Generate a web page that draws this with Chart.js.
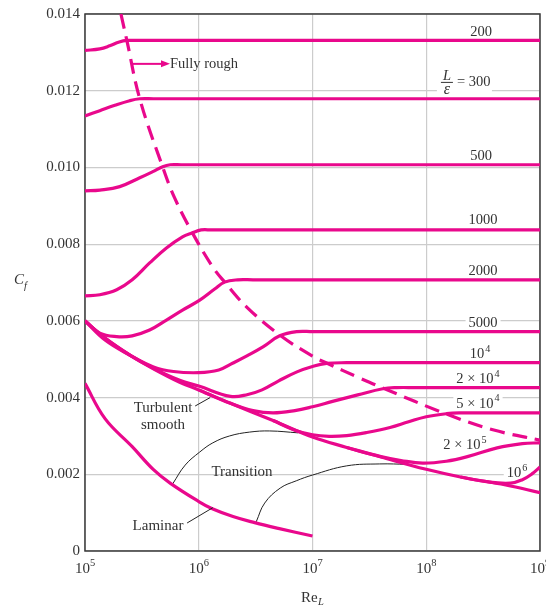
<!DOCTYPE html>
<html>
<head>
<meta charset="utf-8">
<script src="https://cdn.jsdelivr.net/npm/chart.js@4.4.0/dist/chart.umd.min.js"></script>
<style>
  body { margin: 0; background: #fff; }
  #wrap { width: 546px; height: 606px; }
</style>
</head>
<body>
<div id="wrap"><canvas id="cfChart"></canvas></div>
<script>
// axis ticks
const reTicks = [1e5, 1e6, 1e7, 1e8, 1e9];
const cfTicks = [0, 0.002, 0.004, 0.006, 0.008, 0.010, 0.012, 0.014];

// turbulent smooth plate
const smoothRe = [1e5, 1.5e5, 2.5e5, 4e5, 6.8e5, 1e6, 1.9e6, 4.5e6, 1e7, 2e7, 4e7, 1e8, 2e8, 5e8, 1e9];
const smoothCf = [0.0060, 0.00555, 0.0051, 0.00475, 0.0044, 0.0042, 0.00385, 0.0034, 0.00297, 0.0027, 0.00245, 0.00213, 0.00193, 0.00172, 0.00152];

// laminar
const laminarRe = [1e5, 1.5e5, 2.6e5, 4e5, 5.6e5, 1e6, 1.3e6, 2e6, 3.1e6, 5e6, 1e7];
const laminarCf = [0.00437, 0.00345, 0.00272, 0.00212, 0.00177, 0.00129, 0.00111, 0.00090, 0.00074, 0.00059, 0.00039];

// rough plates, L/eps
const r200Re = [1e5, 1.35e5, 1.65e5, 2.0e5, 2.33e5, 3e5, 1e9];
const r200Cf = [0.01305, 0.01309, 0.01317, 0.01327, 0.01331, 0.01331, 0.01331];
const r300Re = [1e5, 1.35e5, 1.83e5, 2.47e5, 3.03e5, 4e5, 1e9];
const r300Cf = [0.01134, 0.01148, 0.01162, 0.01174, 0.01179, 0.01179, 0.01179];
const r500Re = [1e5, 1.35e5, 2.02e5, 3.03e5, 3.94e5, 4.82e5, 5.6e5, 7e5, 1e9];
const r500Cf = [0.00939, 0.00941, 0.0095, 0.00973, 0.00989, 0.01002, 0.01007, 0.01007, 0.01007];
const r1000Re = [1e5, 1.35e5, 1.9e5, 2.6e5, 3.7e5, 5.2e5, 7.2e5, 8.7e5, 1.05e6, 1.3e6, 1e9];
const r1000Cf = [0.00665, 0.00668, 0.00681, 0.00707, 0.00751, 0.0079, 0.00819, 0.00829, 0.00837, 0.00837, 0.00837];
const r2000Re = [1e5, 1.35e5, 1.9e5, 2.6e5, 3.7e5, 5.2e5, 7.2e5, 1.02e6, 1.38e6, 1.69e6, 2.2e6, 3e6, 1e9];
const r2000Cf = [0.0060, 0.00568, 0.00559, 0.00561, 0.00576, 0.00602, 0.00628, 0.00654, 0.00683, 0.00701, 0.00707, 0.00707, 0.00707];
const r5000Re = [1e5, 1.5e5, 2.5e5, 4e5, 6e5, 1e6, 1.5e6, 2e6, 2.7e6, 3.7e6, 5.15e6, 7.3e6, 1e7, 1e9];
const r5000Cf = [0.0060, 0.0055, 0.0051, 0.0048, 0.00468, 0.00465, 0.00472, 0.0049, 0.0051, 0.00533, 0.00561, 0.00572, 0.00572, 0.00572];
const r1e4Re = [1e5, 1.5e5, 2.5e5, 4e5, 6.8e5, 1e6, 1.9e6, 2.7e6, 3.6e6, 5e6, 7.3e6, 1e7, 1.33e7, 2e7, 3e7, 1e9];
const r1e4Cf = [0.0060, 0.00555, 0.0051, 0.00476, 0.00445, 0.0043, 0.00403, 0.00408, 0.0042, 0.00443, 0.00467, 0.00481, 0.00489, 0.00491, 0.00491, 0.00491];
const r2e4Re = [1e6, 1.9e6, 3e6, 4.5e6, 7e6, 1e7, 1.5e7, 2.5e7, 4.15e7, 5.5e7, 8e7, 1e9];
const r2e4Cf = [0.0042, 0.00385, 0.00366, 0.0036, 0.00366, 0.00376, 0.0039, 0.00407, 0.00423, 0.00426, 0.00426, 0.00426];
const r5e4Re = [4.5e6, 7e6, 1e7, 1.4e7, 2e7, 3e7, 4.8e7, 7e7, 1e8, 1.51e8, 2e8, 3e8, 1e9];
const r5e4Cf = [0.0034, 0.00315, 0.00303, 0.00299, 0.00301, 0.00309, 0.00322, 0.00337, 0.0035, 0.00358, 0.0036, 0.0036, 0.0036];
const r2e5Re = [2e7, 4e7, 6e7, 9.3e7, 1.5e8, 2.3e8, 4.2e8, 7e8, 1e9];
const r2e5Cf = [0.0027, 0.00246, 0.00236, 0.00229, 0.00234, 0.00246, 0.00269, 0.0028, 0.00282];
const r1e6Re = [2e8, 3.5e8, 5.5e8, 7e8, 8.5e8, 1e9];
const r1e6Cf = [0.00193, 0.0018, 0.00177, 0.00186, 0.00201, 0.00219];

// fully rough boundary (dashed)
const roughRe = [2.07e5, 2.33e5, 3.03e5, 4.82e5, 6.15e5, 8.7e5, 1.33e6, 1.69e6, 2.64e6, 5.15e6, 1e7, 1.33e7, 2.6e7, 4.15e7, 1.51e8, 3.85e8, 1e9];
const roughCf = [0.0140, 0.01332, 0.01179, 0.01001, 0.0092, 0.00832, 0.0074, 0.00701, 0.00636, 0.00563, 0.00508, 0.0049, 0.00451, 0.00425, 0.00357, 0.00316, 0.00289];

// transition (thin black)
const trans1Re = [5.9e5, 7.6e5, 1.02e6, 1.33e6, 1.87e6, 2.8e6, 4.2e6, 7.5e6];
const trans1Cf = [0.00175, 0.00224, 0.00258, 0.00282, 0.0030, 0.0031, 0.00313, 0.00308];
const trans2Re = [3.2e6, 3.8e6, 5.2e6, 7.2e6, 1e7, 2e7, 3.9e7, 6.8e7];
const trans2Cf = [0.00076, 0.00125, 0.00164, 0.00183, 0.00198, 0.00222, 0.00227, 0.00226];

const pink = "#e9088c";
const ink = "#333";
const serif = "'Liberation Serif', 'Times New Roman', serif";

function line(re, cf, extra) {
  return Object.assign({
    data: re.map((r, i) => ({ x: r, y: cf[i] })),
    borderColor: pink,
    borderWidth: 3.2,
    pointRadius: 0,
    fill: false,
    tension: 0.4
  }, extra);
}

const thin = { borderColor: "#222", borderWidth: 1 };

// labels of the curves, placed in data units
const curveLabels = [
  { re: 3.03e8, cf: 0.01356, text: "200" },
  { re: 3.03e8, cf: 0.01032, text: "500" },
  { re: 3.16e8, cf: 0.00866, text: "1000" },
  { re: 3.16e8, cf: 0.00733, text: "2000" },
  { re: 3.16e8, cf: 0.00597, text: "5000", bg: true },
  { re: 2.97e8, cf: 0.00516, text: "10", sup: "4" },
  { re: 2.85e8, cf: 0.00451, text: "2 × 10", sup: "4" },
  { re: 2.85e8, cf: 0.00386, text: "5 × 10", sup: "4", bg: true },
  { re: 2.19e8, cf: 0.00279, text: "2 × 10", sup: "5" },
  { re: 6.28e8, cf: 0.00206, text: "10", sup: "6", bg: true }
];

function drawSup(ctx, text, sup, cx, cy, size, bg) {
  ctx.font = size + "px " + serif;
  const wb = ctx.measureText(text).width;
  ctx.font = (size * 0.7) + "px " + serif;
  const ws = sup ? ctx.measureText(sup).width + 1 : 0;
  const x0 = cx - (wb + ws) / 2;
  if (bg) {
    ctx.fillStyle = "#fff";
    ctx.fillRect(x0 - 3, cy - 8, wb + ws + 6, 15);
  }
  ctx.fillStyle = ink;
  ctx.textAlign = "left";
  ctx.textBaseline = "alphabetic";
  ctx.font = size + "px " + serif;
  ctx.fillText(text, x0, cy + size * 0.34);
  if (sup) {
    ctx.font = (size * 0.7) + "px " + serif;
    ctx.fillText(sup, x0 + wb + 1, cy - size * 0.1);
  }
}

const annotate = {
  id: "annotate",
  beforeDatasetsDraw(chart) {
    const { ctx, chartArea: a, scales: { x, y } } = chart;
    const at = (re, cf) => [x.getPixelForValue(re), y.getPixelForValue(cf)];
    ctx.save();

    ctx.strokeStyle = "#3a3a3a";
    ctx.lineWidth = 1.5;
    ctx.strokeRect(a.left, a.top, a.right - a.left, a.bottom - a.top);

    curveLabels.forEach(l => {
      const [px, py] = at(l.re, l.cf);
      drawSup(ctx, l.text, l.sup, px, py, 14.5, l.bg);
    });

    // L / eps = 300
    const [fx, fy] = at(1.52e8, 0.01223);
    ctx.fillStyle = "#fff";
    ctx.fillRect(fx - 10, fy + 4, 55, 11);
    ctx.fillStyle = ink;
    ctx.textAlign = "center";
    ctx.textBaseline = "alphabetic";
    ctx.font = "italic 14.5px " + serif;
    ctx.fillText("L", fx, fy - 2);
    ctx.font = "italic 16px " + serif;
    ctx.fillText("ε", fx, fy + 12);
    ctx.strokeStyle = ink;
    ctx.lineWidth = 1;
    ctx.beginPath();
    ctx.moveTo(fx - 6, fy + 0.5);
    ctx.lineTo(fx + 6, fy + 0.5);
    ctx.stroke();
    ctx.textAlign = "left";
    ctx.font = "14.5px " + serif;
    ctx.fillText("= 300", fx + 10, fy + 4);

    // region labels
    ctx.textAlign = "center";
    ctx.textBaseline = "middle";
    ctx.font = "15px " + serif;
    let p = at(4.85e5, 0.00373);
    ctx.fillText("Turbulent", p[0], p[1]);
    p = at(4.85e5, 0.00328);
    ctx.fillText("smooth", p[0], p[1]);
    p = at(2.4e6, 0.00206);
    ctx.fillText("Transition", p[0], p[1]);
    p = at(4.38e5, 0.00065);
    ctx.fillText("Laminar", p[0], p[1]);
    ctx.restore();
  },
  afterDatasetsDraw(chart) {
    const { ctx, scales: { x, y } } = chart;
    const at = (re, cf) => [x.getPixelForValue(re), y.getPixelForValue(cf)];
    ctx.save();

    // leaders
    ctx.strokeStyle = "#222";
    ctx.lineWidth = 1;
    [[9.3e5, 0.00378, 1.26e6, 0.00400], [7.9e5, 0.00073, 1.33e6, 0.00113]].forEach(s => {
      const p1 = at(s[0], s[1]), p2 = at(s[2], s[3]);
      ctx.beginPath();
      ctx.moveTo(p1[0], p1[1]);
      ctx.lineTo(p2[0], p2[1]);
      ctx.stroke();
    });

    // fully rough arrow
    const a1 = at(2.64e5, 0.0127), a2 = at(4.75e5, 0.0127);
    ctx.strokeStyle = pink;
    ctx.fillStyle = pink;
    ctx.lineWidth = 2;
    ctx.beginPath();
    ctx.moveTo(a1[0], a1[1]);
    ctx.lineTo(a2[0], a2[1]);
    ctx.stroke();
    ctx.beginPath();
    ctx.moveTo(a2[0] + 8, a2[1]);
    ctx.lineTo(a2[0] - 1, a2[1] - 3.5);
    ctx.lineTo(a2[0] - 1, a2[1] + 3.5);
    ctx.closePath();
    ctx.fill();
    const t = at(5.58e5, 0.0127);
    ctx.fillStyle = ink;
    ctx.font = "14.5px " + serif;
    ctx.textAlign = "left";
    ctx.textBaseline = "middle";
    ctx.fillText("Fully rough", t[0], t[1]);
    ctx.restore();
  },
  afterDraw(chart) {
    const { ctx, chartArea: a, scales: { x } } = chart;
    ctx.save();
    ctx.fillStyle = ink;
    ctx.textBaseline = "alphabetic";
    reTicks.forEach(v => {
      const px = x.getPixelForValue(v);
      const exp = String(Math.round(Math.log10(v)));
      ctx.font = "15px " + serif;
      const wb = ctx.measureText("10").width;
      ctx.font = "10.5px " + serif;
      const ws = ctx.measureText(exp).width;
      const x0 = px - (wb + ws) / 2;
      ctx.textAlign = "left";
      ctx.font = "15px " + serif;
      ctx.fillText("10", x0, a.bottom + 22);
      ctx.font = "10.5px " + serif;
      ctx.fillText(exp, x0 + wb, a.bottom + 15);
    });

    // axis titles
    ctx.font = "15px " + serif;
    ctx.fillText("Re", 301, 602);
    ctx.font = "italic 10.5px " + serif;
    ctx.fillText("L", 318, 605);
    ctx.font = "italic 15px " + serif;
    ctx.fillText("C", 14, 284);
    ctx.font = "italic 10.5px " + serif;
    ctx.fillText("f", 24, 289);
    ctx.restore();
  }
};

const ctx = document.getElementById("cfChart").getContext("2d");
const cfChart = new Chart(ctx, {
  type: "line",
  data: {
    datasets: [
      line(r200Re, r200Cf),
      line(r300Re, r300Cf),
      line(r500Re, r500Cf),
      line(r1000Re, r1000Cf),
      line(r2000Re, r2000Cf),
      line(r5000Re, r5000Cf),
      line(r1e4Re, r1e4Cf),
      line(r2e4Re, r2e4Cf),
      line(r5e4Re, r5e4Cf),
      line(r2e5Re, r2e5Cf),
      line(r1e6Re, r1e6Cf),
      line(smoothRe, smoothCf),
      line(laminarRe, laminarCf),
      line(roughRe, roughCf, { borderDash: [15, 8] }),
      line(trans1Re, trans1Cf, thin),
      line(trans2Re, trans2Cf, thin)
    ]
  },
  options: {
    responsive: true,
    maintainAspectRatio: false,
    animation: false,
    events: [],
    layout: { padding: { top: 14, right: 6, bottom: 0, left: 0 } },
    plugins: {
      legend: { display: false },
      tooltip: { enabled: false }
    },
    scales: {
      x: {
        type: "logarithmic",
        min: 1e5,
        max: 1e9,
        afterBuildTicks: s => { s.ticks = reTicks.map(v => ({ value: v })); },
        afterFit: s => { s.height = 55; },
        ticks: { display: false },
        grid: { color: "#cccccc", lineWidth: 1.2, drawTicks: false },
        border: { display: false }
      },
      y: {
        type: "linear",
        min: 0,
        max: 0.014,
        afterBuildTicks: s => { s.ticks = cfTicks.map(v => ({ value: v })); },
        afterFit: s => { s.width = 85; },
        ticks: {
          padding: 5,
          color: ink,
          font: { family: serif, size: 15 },
          callback: v => v === 0 ? "0" : v.toFixed(3)
        },
        grid: { color: "#cccccc", lineWidth: 1.2, drawTicks: false },
        border: { display: false }
      }
    }
  },
  plugins: [annotate]
});
</script>
</body>
</html>
